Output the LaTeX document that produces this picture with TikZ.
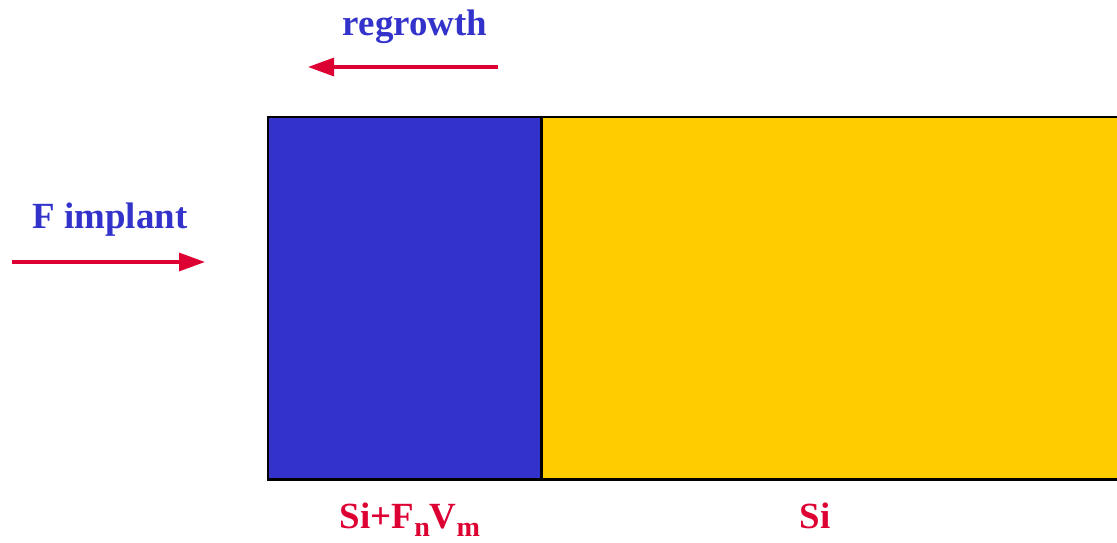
\documentclass[tikz,border=0pt]{standalone}
\usepackage{fontspec}
\setmainfont{Liberation Serif}
\usetikzlibrary{arrows.meta,positioning,calc}

\definecolor{layerblue}{RGB}{51,51,204}
\definecolor{layeryellow}{RGB}{255,204,0}
\definecolor{arrowred}{RGB}{221,0,51}

\newcommand{\lowsub}[1]{\raisebox{-0.22em}{\fontsize{16}{18}\selectfont #1}}

\tikzset{
  lbl/.style={font=\fontsize{21}{24}\selectfont\bfseries, inner sep=0pt, anchor=base},
  bluelbl/.style={lbl, text=layerblue},
  redlbl/.style={lbl, text=arrowred},
  flow/.style={draw=arrowred, line width=1.8pt, -{Triangle[length=0.52cm,width=0.36cm]}}
}

\begin{document}
\begin{tikzpicture}
  \useasboundingbox (0,0) rectangle (22.34,10.84);

  % layer positions
  \def\xleft{5.36}   % left face
  \def\xint{10.82}   % interface
  \def\xright{22.34} % cut off at the edge
  \def\ytop{8.5}
  \def\ybot{1.26}

  % layers
  \fill[layerblue] (\xleft,\ybot) rectangle (\xint,\ytop);
  \fill[layeryellow] (\xint,\ybot) rectangle (\xright,\ytop);
  \draw[line width=1.7pt] (\xright,\ytop) -- (\xleft,\ytop) -- (\xleft,\ybot) -- (\xright,\ybot);
  \draw[line width=1.7pt] (\xint,\ytop) -- (\xint,\ybot);

  % labels
  \node[bluelbl] (regrowth) at (8.3,10.14) {regrowth};
  \node[bluelbl] (implant) at (2.2,6.28) {F implant};
  \node[redlbl] (mixed) at (8.2,0.28) {Si+F\lowsub{n}V\lowsub{m}};
  \node[redlbl] (si) at (16.3,0.28) {Si};

  % arrows
  \coordinate (rgstart) at (9.96,9.5);
  \coordinate (rgend) at (6.16,9.5);
  \coordinate (imstart) at (0.24,5.6);
  \coordinate (imend) at (4.1,5.6);
  \draw[flow] (rgstart) -- (rgend);
  \draw[flow] (imstart) -- (imend);
\end{tikzpicture}
\end{document}
